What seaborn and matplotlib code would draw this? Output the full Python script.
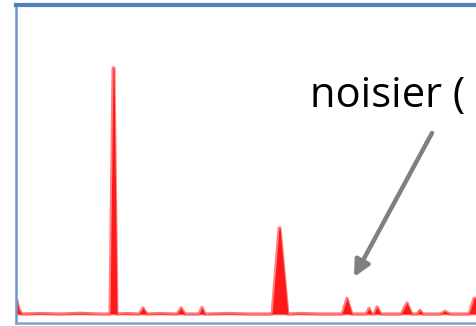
import numpy as np
import pandas as pd
import seaborn as sns
import matplotlib
matplotlib.use("Agg")
import matplotlib.pyplot as plt

# spectrum: position (channel) and relative intensity (big peak = 100)
channel = [16, 17, 19, 22, 40, 60, 80, 100, 110, 113, 114, 117, 125, 139, 143, 147,
           160, 177, 181, 185, 199, 202, 205, 230, 250, 272, 279, 280, 288, 300, 320,
           342, 347, 352, 366, 369, 372, 374, 377, 381, 401, 407, 412, 417, 420, 423,
           440, 445, 450, 469, 474, 487]
intensity = [0.0, 5.5, 2.0, 0.0, 0.3, 0.0, 0.4, 0.0, 0.0, 100.0, 100.0, 0.0, 0.3, 0.0, 2.6, 0.0,
             0.3, 0.0, 2.6, 0.0, 0.0, 2.8, 0.0, 0.3, 0.0, 0.0, 35.0, 35.0, 0.0, 0.3, 0.0,
             0.0, 6.5, 0.0, 0.0, 2.4, 0.0, 0.0, 3.0, 0.0, 0.0, 4.6, 0.0, 0.0, 1.6, 0.0,
             0.0, 1.2, 0.0, 0.0, 6.5, 6.5]

annotation = "noisier ("

df = pd.DataFrame({"channel": channel, "intensity": intensity})

fig = plt.figure(figsize=(4.77, 3.26), dpi=100)
ax = fig.add_axes([16 / 477, 3 / 326, 471 / 477, 318 / 326])
sns.lineplot(data=df, x="channel", y="intensity", ax=ax, color="#FF1A1A",
             lw=2.2, alpha=0.55, sort=False)
ax.fill_between(df["channel"], df["intensity"], color="#FF0000", alpha=0.9, lw=0)
ax.axhline(0, color="#FF6060", lw=3.0, alpha=0.25, zorder=0)

ax.set_xlim(16, 487)
ax.set_ylim(-3.6, 125.5)
ax.set_xticks([])
ax.set_yticks([])
ax.set_xlabel("")
ax.set_ylabel("")
ax.spines["top"].set_color("#4F7FC0")
ax.spines["top"].set_linewidth(3.0)
ax.spines["left"].set_color("#6F98CF")
ax.spines["left"].set_linewidth(1.8)
ax.spines["bottom"].set_color("#7DA2D2")
ax.spines["bottom"].set_linewidth(1.8)
ax.spines["right"].set_visible(False)

fig.text(310 / 477, 1 - 107 / 326, annotation, fontsize=30, family="Open Sans",
         color="black", va="baseline", ha="left")
fig.add_artist(matplotlib.patches.FancyArrowPatch(
    (432 / 477, 1 - 133 / 326), (354 / 477, 1 - 277 / 326),
    transform=fig.transFigure, arrowstyle="-|>", mutation_scale=24,
    color="#808080", lw=3.2, shrinkA=0, shrinkB=0))

fig.savefig("out.png", dpi=100)
